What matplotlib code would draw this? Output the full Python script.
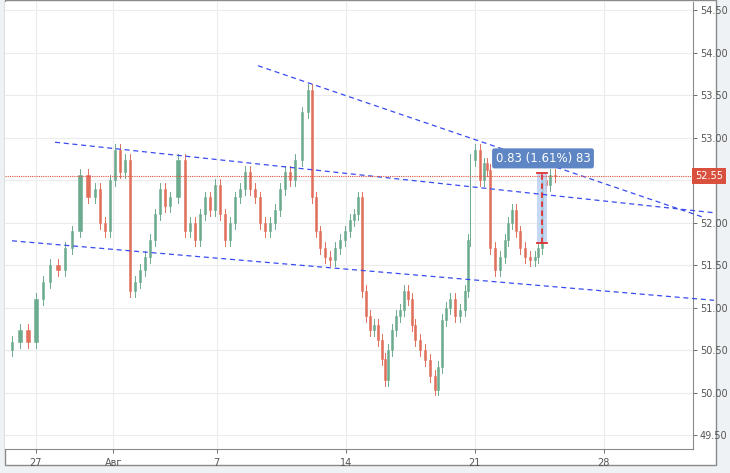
import matplotlib
matplotlib.use("Agg")
import matplotlib.pyplot as plt
from matplotlib.patches import Rectangle

# pixel-read path (x pixel -> trading-day, price)
xpix = [5,12,20,28,36,43,50,58,65,72,80,88,95,100,105,110,115,120,125,130,135,140,145,150,155,160,165,170,178,185,190,195,200,205,210,215,220,225,230,235,240,245,250,255,260,265,270,275,280,285,290,295,302,308,312,316,320,325,330,335,340,345,350,354,358,362,366,370,374,378,382,385,388,392,396,400,404,408,412,415,420,425,430,435,438,442,446,450,455,460,465,468,470,475,480,484,487,490,495,500,505,508,512,516,520,525,530,535,538,542,546,550,555]
close = [50.5,50.6,50.74,50.6,51.1,51.3,51.5,51.45,51.7,51.9,52.56,52.3,52.4,52.0,51.9,52.5,52.86,52.6,52.74,51.2,51.3,51.45,51.6,51.8,52.1,52.4,52.2,52.3,52.74,51.9,52.0,51.8,52.1,52.3,52.15,52.45,52.1,51.8,52.0,52.3,52.4,52.6,52.4,52.3,52.0,51.9,52.0,52.15,52.4,52.6,52.5,52.74,53.3,53.56,52.3,51.9,51.7,51.6,51.56,51.7,51.8,51.9,52.03,52.1,52.3,51.2,50.9,50.74,50.8,50.62,50.4,50.15,50.5,50.74,50.9,50.98,51.2,51.1,50.8,50.62,50.5,50.39,50.2,50.04,50.3,50.86,51.0,51.1,50.9,50.98,51.2,51.8,52.74,52.86,52.5,52.7,52.62,51.7,51.45,51.6,51.8,52.0,52.15,51.9,51.7,51.6,51.56,51.6,51.7,52.5,52.45,52.56,52.55]
yticks = [49.5,50.0,50.5,51.0,51.5,52.0,52.5,53.0,53.5,54.0,54.5]
xtick_days = [0,3,7,12,17,22]
xtick_labels = ["27","Авг","7","14","21","28"]
trend_lines = [((55,52.95),(714,52.12)),((258,53.85),(705,52.06)),((12,51.79),(714,51.09))]
last_price = 52.55
ruler = (542, 51.76, 52.59)
ruler_text = "0.83 (1.61%) 83"

def d(x):
    return (x-36)/25.8

fig = plt.figure(figsize=(7.3,4.73), dpi=100)
fig.patch.set_facecolor("#eef2f5")
frame = Rectangle((5/730, 8/473), 711/730, 465/473, transform=fig.transFigure,
                  facecolor="white", edgecolor="#8a8a8a", lw=1, zorder=-10)
fig.add_artist(frame)
ax = fig.add_axes([5/730, 24/473, 688/730, 447/473])
ax.set_zorder(5)
ax.set_facecolor("white")
ax.set_xlim(d(5), d(693))
ax.set_ylim(49.34, 54.6)
for y in yticks:
    ax.axhline(y, color="#ececec", lw=0.8, zorder=0)
for x in xtick_days:
    ax.axvline(x, color="#ececec", lw=0.8, zorder=0)

days = [d(x) for x in xpix]
for i in range(1, len(days)):
    o, c = close[i-1], close[i]
    col = "#6cab8e" if c >= o else "#e0705c"
    w = (days[i]-days[i-1])*0.4
    hi = max(o, c) + 0.07
    lo = min(o, c) - 0.07
    ax.plot([days[i], days[i]], [lo, hi], color=col, lw=0.7, zorder=2)
    ax.add_patch(Rectangle((days[i]-w/2, min(o, c)), w, max(abs(c-o), 0.01),
                           facecolor=col, edgecolor=col, lw=0.4, zorder=3))

for (x1, y1), (x2, y2) in trend_lines:
    ax.plot([d(x1), d(x2)], [y1, y2], color="#3a4cf0", lw=0.9, ls=(0, (4, 3)), zorder=4, clip_on=False)

ax.axhline(last_price, color="#e0503c", lw=0.8, ls=(0, (1, 1)), zorder=4)

rx, rlo, rhi = ruler
ax.add_patch(Rectangle((d(rx)-0.2, rlo), 0.4, rhi-rlo, facecolor="#b8cff0", alpha=0.8, edgecolor="none", zorder=3))
ax.plot([d(rx), d(rx)], [rlo, rhi], color="#e03030", lw=1.3, ls=(0, (3, 2)), zorder=5)
for yy in (rlo, rhi):
    ax.plot([d(rx)-0.2, d(rx)+0.2], [yy, yy], color="#e03030", lw=1.3, zorder=5)
ax.text(d(543), 52.76, ruler_text, color="white", fontsize=8.5, ha="center", va="center", zorder=6,
        bbox=dict(boxstyle="round,pad=0.3,rounding_size=0.2", facecolor="#5f86c4", edgecolor="none"))

ax.yaxis.tick_right()
ax.set_yticks(yticks)
ax.set_yticklabels(["" if abs(v-last_price) < 0.1 else f"{v:.2f}" for v in yticks])
ax.set_xticks(xtick_days)
ax.set_xticklabels(xtick_labels)
ax.tick_params(axis="both", labelsize=7, colors="#555555", length=3, width=0.6)
ax.tick_params(axis="y", pad=2)
for s in ["left", "top"]:
    ax.spines[s].set_visible(False)
for s in ["right", "bottom"]:
    ax.spines[s].set_color("#8a8a8a")

ax.text(1.003, last_price, f"{last_price:.2f}", transform=ax.get_yaxis_transform(), color="white",
        fontsize=7, ha="left", va="center", zorder=7,
        bbox=dict(boxstyle="square,pad=0.3", facecolor="#d9503e", edgecolor="none"))

fig.savefig("out.png", dpi=100)
